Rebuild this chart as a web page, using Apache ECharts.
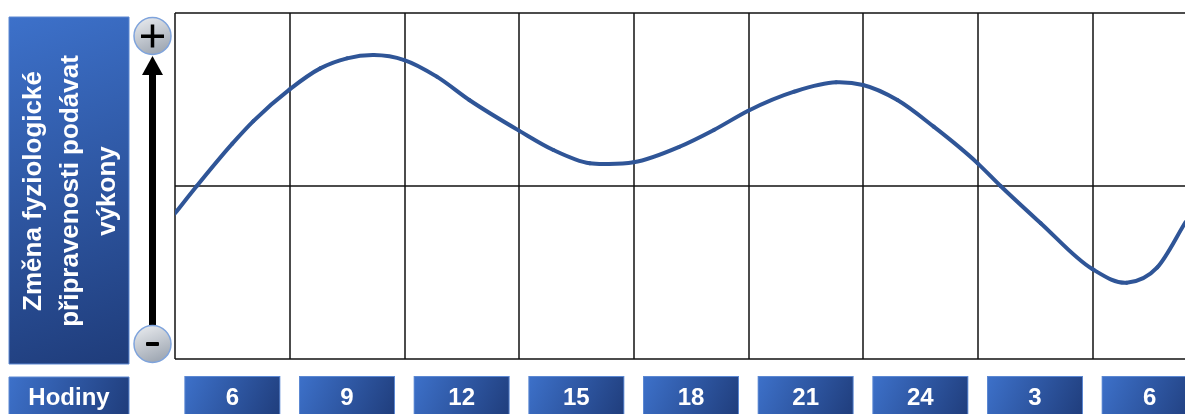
<!DOCTYPE html>
<html>
<head>
<meta charset="utf-8">
<script src="https://cdn.jsdelivr.net/npm/echarts@6/dist/echarts.min.js"></script>
<style>
  html, body { margin: 0; padding: 0; background: #fff; overflow: hidden; }
  #chart { width: 1207px; height: 414px; }
</style>
</head>
<body>
<div id="chart"></div>
<script>
// Hour of day (continuing past midnight as 24+) and relative readiness (-1 .. +1)
const hours = [4.5, 5.07, 6, 6.55, 7.5, 8.3, 9, 9.7, 10.5, 11.35, 12.2, 13.5, 14.4, 15.35, 15.85, 16.5, 17.7, 18.6, 19.5, 20.7, 21.8, 22.5, 23.4, 24.35, 25.5, 26.1, 27.15, 28.5, 29.4, 30.2, 30.94];
const readiness = [-0.158, 0, 0.245, 0.375, 0.559, 0.68, 0.738, 0.757, 0.728, 0.632, 0.497, 0.32, 0.208, 0.131, 0.127, 0.137, 0.227, 0.324, 0.435, 0.545, 0.599, 0.584, 0.497, 0.343, 0.131, 0, -0.215, -0.48, -0.559, -0.47, -0.208];
// Clock-hour columns shown under the plot
const hourLabels = ['6', '9', '12', '15', '18', '21', '24', '3', '6'];
const yTitle = 'Změna fyziologické\npřipravenosti podávat\nvýkony';
const xTitle = 'Hodiny';

const FONT = '"Liberation Sans", Arial, sans-serif';
const CURVE_COLOR = '#2F5597';
const G = echarts.graphic;
const boxFill = () => new G.LinearGradient(0, 0, 1, 1, [
  { offset: 0, color: '#3D71CA' },
  { offset: 1, color: '#1F3C7A' }
]);
const knobFill = () => new G.LinearGradient(0, 0, 0.4, 1, [
  { offset: 0, color: '#EEF0F3' },
  { offset: 1, color: '#A2AAB5' }
]);

// Smooth curve through the readings: cubic Hermite segments (drawn as Béziers)
// with three-point slope estimates, all positions taken from the axes.
function renderCurve(params, api) {
  if (params.dataIndex !== 0) return null;
  const p = hours.map((h, i) => api.coord([h, readiness[i]]));
  const n = p.length;
  const slope = (a, b) => (p[b][1] - p[a][1]) / (p[b][0] - p[a][0]);
  const m = p.map((_, i) => {
    if (i === 0) return slope(0, 1);
    if (i === n - 1) return slope(n - 2, n - 1);
    const h0 = p[i][0] - p[i - 1][0];
    const h1 = p[i + 1][0] - p[i][0];
    return (slope(i - 1, i) * h1 + slope(i, i + 1) * h0) / (h0 + h1);
  });
  const children = [];
  for (let i = 0; i < n - 1; i++) {
    const h = (p[i + 1][0] - p[i][0]) / 3;
    children.push({
      type: 'bezierCurve',
      shape: {
        x1: p[i][0], y1: p[i][1],
        cpx1: p[i][0] + h, cpy1: p[i][1] + m[i] * h,
        cpx2: p[i + 1][0] - h, cpy2: p[i + 1][1] - m[i + 1] * h,
        x2: p[i + 1][0], y2: p[i + 1][1]
      },
      style: { fill: null, stroke: CURVE_COLOR, lineWidth: 4, lineCap: 'round' }
    });
  }
  return { type: 'group', children };
}

const chart = echarts.init(document.getElementById('chart'), null, { renderer: 'canvas' });

chart.setOption({
  animation: false,
  backgroundColor: '#ffffff',
  grid: { left: 175, right: 0, top: 13, bottom: 55, containLabel: false, outerBoundsMode: 'none' },
  xAxis: [
    {
      // column bands: grid lines between hours and the labelled boxes
      type: 'category',
      position: 'bottom',
      data: hourLabels,
      boundaryGap: true,
      axisLine: { show: false },
      axisTick: { show: false },
      splitLine: { show: true, interval: 0, lineStyle: { color: '#111', width: 1.5 } },
      axisLabel: {
        interval: 0,
        margin: 18,
        color: '#ffffff',
        fontFamily: FONT,
        fontWeight: 'bold',
        fontSize: 24,
        width: 94,
        height: 42,
        lineHeight: 42,
        align: 'center',
        verticalAlign: 'top',
        backgroundColor: boxFill(),
        borderColor: '#5C88D2',
        borderWidth: 1
      }
    },
    {
      // continuous time axis carrying the curve
      type: 'value',
      position: 'top',
      show: false,
      min: 4.5,
      max: 31.5,
      splitLine: { show: false }
    }
  ],
  yAxis: {
    type: 'value',
    min: -1,
    max: 1,
    interval: 1,
    axisLine: { show: false },
    axisTick: { show: false },
    axisLabel: { show: false },
    splitLine: { show: true, lineStyle: { color: '#111', width: 1.5 } }
  },
  series: [{
    type: 'custom',
    xAxisIndex: 1,
    yAxisIndex: 0,
    data: hours.map((h, i) => [h, readiness[i]]),
    renderItem: renderCurve,
    clip: true,
    z: 5
  }],
  graphic: [
    // vertical title panel
    {
      type: 'rect',
      shape: { x: 9, y: 17, width: 120, height: 347 },
      style: { fill: boxFill(), stroke: '#5C88D2', lineWidth: 1 }
    },
    {
      type: 'text',
      x: 71, y: 191,
      rotation: Math.PI / 2,
      style: {
        text: yTitle,
        fill: '#ffffff',
        font: 'bold 26px ' + FONT,
        lineHeight: 37,
        align: 'center',
        verticalAlign: 'middle'
      }
    },
    // x title box
    {
      type: 'rect',
      shape: { x: 9, y: 377, width: 120, height: 42 },
      style: { fill: boxFill(), stroke: '#5C88D2', lineWidth: 1 }
    },
    {
      type: 'text',
      x: 69, y: 398,
      style: {
        text: xTitle,
        fill: '#ffffff',
        font: 'bold 24px ' + FONT,
        align: 'center',
        verticalAlign: 'middle'
      }
    },
    // arrow shaft and head
    {
      type: 'rect',
      shape: { x: 149, y: 72, width: 7, height: 258 },
      style: { fill: '#000' }
    },
    {
      type: 'polygon',
      shape: { points: [[152.5, 56], [163, 75], [142, 75]] },
      style: { fill: '#000' }
    },
    // plus knob
    {
      type: 'circle',
      shape: { cx: 152.5, cy: 36, r: 18.5 },
      style: { fill: knobFill(), stroke: '#7EA3DC', lineWidth: 1.5 }
    },
    {
      type: 'rect',
      shape: { x: 141, y: 34.5, width: 23, height: 3.5 },
      style: { fill: '#000' }
    },
    {
      type: 'rect',
      shape: { x: 150.75, y: 24.5, width: 3.5, height: 23 },
      style: { fill: '#000' }
    },
    // minus knob
    {
      type: 'circle',
      shape: { cx: 152.5, cy: 344, r: 18.5 },
      style: { fill: knobFill(), stroke: '#7EA3DC', lineWidth: 1.5 }
    },
    {
      type: 'rect',
      shape: { x: 146, y: 342, width: 13, height: 4, r: 1 },
      style: { fill: '#000' }
    }
  ]
});
</script>
</body>
</html>
